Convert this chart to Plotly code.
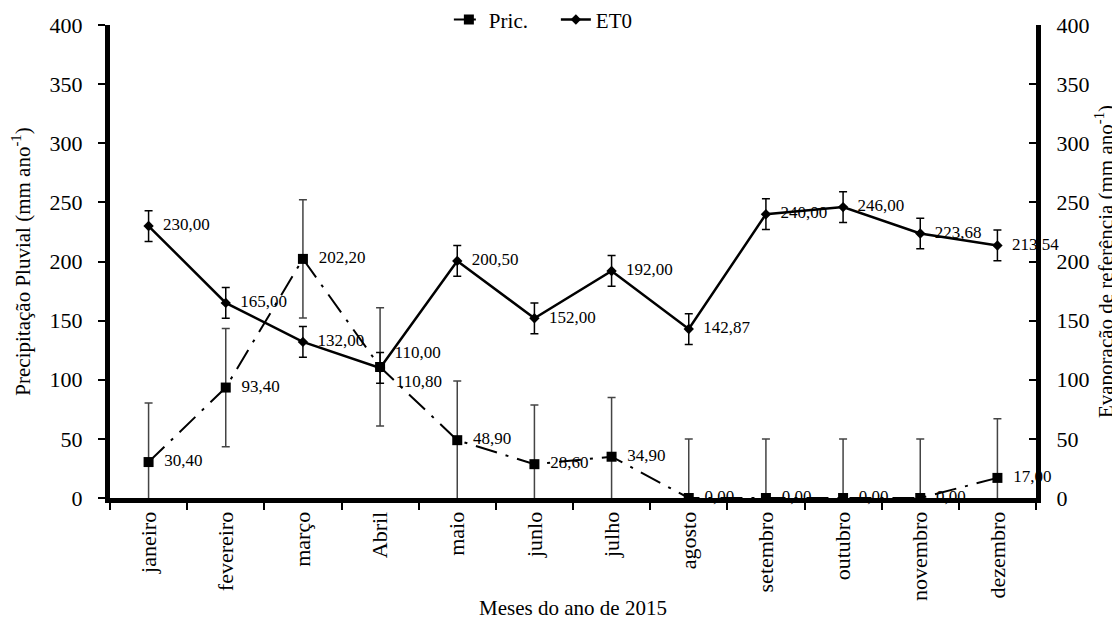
import plotly.graph_objects as go

months = ["janeiro", "fevereiro", "março", "Abril", "maio", "junlo", "julho",
          "agosto", "setembro", "outubro", "novembro", "dezembro"]
pric = [30.40, 93.40, 202.20, 110.80, 48.90, 28.60, 34.90, 0.00, 0.00, 0.00, 0.00, 17.00]
et0 = [230.00, 165.00, 132.00, 110.00, 200.50, 152.00, 192.00, 142.87, 240.00, 246.00, 223.68, 213.54]
pric_err = [50] * 12
et0_err = [13] * 12

def fmt(v):
    return "\u2002" + f"{v:.2f}".replace(".", ",")

pric_pos = ["middle right"] * 12
pric_pos[3] = "bottom right"
et0_pos = ["middle right"] * 12
et0_pos[3] = "top right"

FONT = "Liberation Serif"

fig = go.Figure()
fig.add_trace(go.Scatter(
    x=months, y=pric, name="Pric.", mode="lines+markers+text", cliponaxis=False,
    line=dict(color="black", width=2, dash="22px,9px,3px,9px"),
    marker=dict(symbol="square", size=10, color="black"),
    error_y=dict(type="data", array=pric_err, color="#444", thickness=1.5, width=4),
    text=[fmt(v) for v in pric], textposition=pric_pos,
    textfont=dict(family=FONT, size=17, color="black"),
))
fig.add_trace(go.Scatter(
    x=months, y=et0, name="ET0", mode="lines+markers+text", yaxis="y2", cliponaxis=False,
    line=dict(color="black", width=2.5),
    marker=dict(symbol="diamond", size=8, color="black"),
    error_y=dict(type="data", array=et0_err, color="black", thickness=1.5, width=4),
    text=[fmt(v) for v in et0], textposition=et0_pos,
    textfont=dict(family=FONT, size=17, color="black"),
))

fig.update_layout(
    width=1120, height=627,
    margin=dict(l=102, r=92, t=17, b=137, autoexpand=False),
    paper_bgcolor="white", plot_bgcolor="white",
    font=dict(family=FONT, size=22, color="black"),
    showlegend=True,
    legend=dict(orientation="h", x=0.4815, xanchor="center", y=1.011, yanchor="middle",
                entrywidth=62, entrywidthmode="pixels",
                font=dict(family=FONT, size=21), bgcolor="rgba(0,0,0,0)"),
    xaxis=dict(
        type="category", range=[-0.5, 11.5], showline=True, linewidth=5, linecolor="black",
        ticks="outside", tickson="boundaries", ticklen=7, tickwidth=2, tickcolor="black",
        tickangle=-90, showgrid=False, zeroline=False,
        tickfont=dict(family=FONT, size=22),
        title=dict(text="Meses do ano de 2015", font=dict(family=FONT, size=21), standoff=2),
    ),
    yaxis=dict(
        range=[0, 400], dtick=50, showline=True, linewidth=5, linecolor="black",
        ticks="outside", ticklen=7, tickwidth=2, tickcolor="black",
        showgrid=False, zeroline=False, ticksuffix="\u2002",
        tickfont=dict(family=FONT, size=22),
        title=dict(text="Precipitação Pluvial (mm ano<sup>-1</sup>)",
                   font=dict(family=FONT, size=21), standoff=15),
    ),
    yaxis2=dict(
        range=[0, 400], dtick=50, overlaying="y", side="right",
        showline=True, linewidth=5, linecolor="black",
        ticks="inside", ticklen=7, tickwidth=2, tickcolor="black",
        showgrid=False, zeroline=False, tickprefix="\u2002",
        tickfont=dict(family=FONT, size=22),
        title=dict(text="Evaporação de referência (mm ano<sup>-1</sup>)",
                   font=dict(family=FONT, size=21), standoff=11),
    ),
)

fig.write_html("out.html")
